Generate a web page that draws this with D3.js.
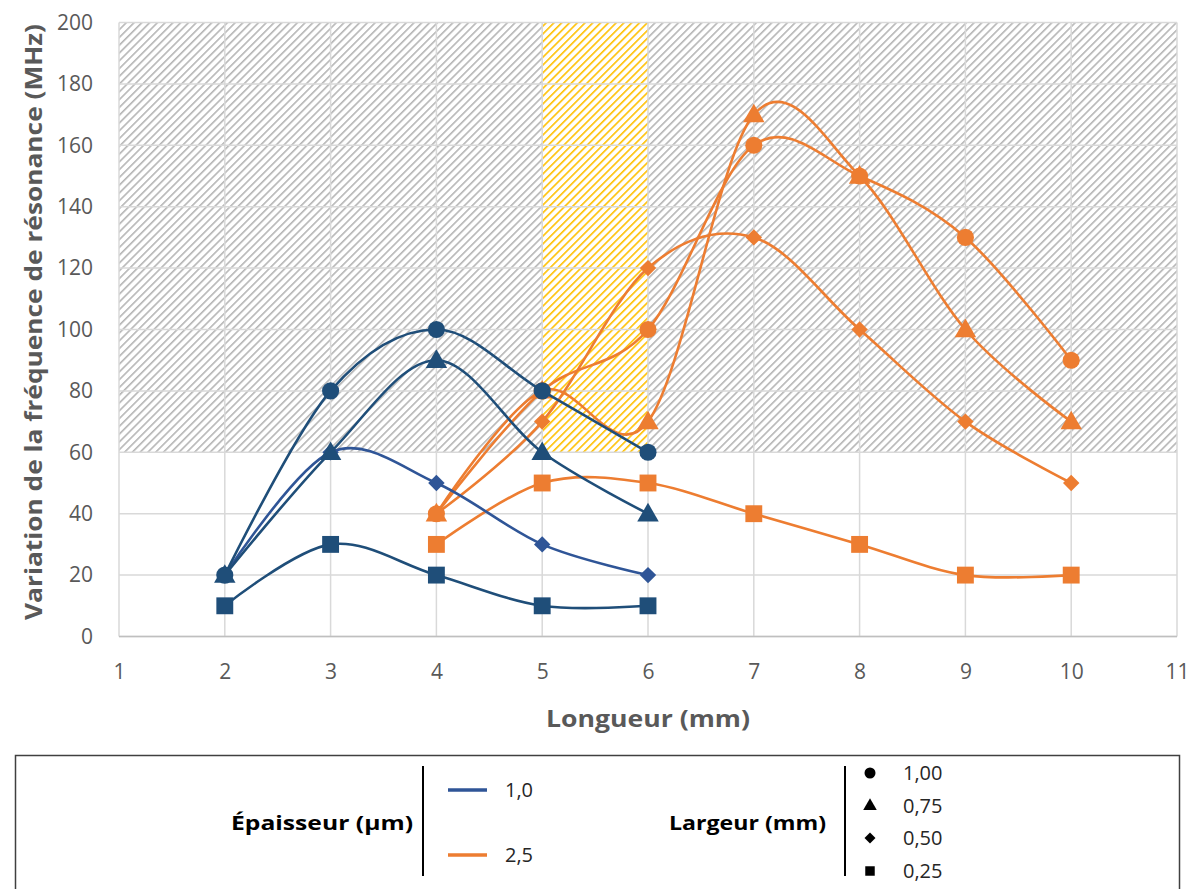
<!DOCTYPE html>
<html>
<head>
<meta charset="utf-8">
<script src="https://cdn.jsdelivr.net/npm/d3@7"></script>
<style>
  html, body { margin: 0; padding: 0; background: #fff; }
  svg { display: block; }
</style>
</head>
<body>
<svg id="chart" width="1198" height="889"></svg>
<script>
// ---- data ----
const xTicks = [1, 2, 3, 4, 5, 6, 7, 8, 9, 10, 11];
const yTicks = [0, 20, 40, 60, 80, 100, 120, 140, 160, 180, 200];

const xBlue = [2, 3, 4, 5, 6];
const blueCircle   = [20, 80, 100, 80, 60];
const blueTriangle = [20, 60, 90, 60, 40];
const blueDiamond  = [20, 60, 50, 30, 20];
const blueSquare   = [10, 30, 20, 10, 10];

const xOrange = [4, 5, 6, 7, 8, 9, 10];
const orangeCircle   = [40, 80, 100, 160, 150, 130, 90];
const orangeTriangle = [40, 80, 70, 170, 150, 100, 70];
const orangeDiamond  = [40, 70, 120, 130, 100, 70, 50];
const orangeSquare   = [30, 50, 50, 40, 30, 20, 20];

// shaded zones: [x0, x1, y0, y1]
const hatchZone = [1, 11, 60, 200];
const yellowZone = [5, 6, 60, 200];

const thicknessLabels = ["1,0", "2,5"];
const widthLabels = ["1,00", "0,75", "0,50", "0,25"];

(function () {
const svg = d3.select("#chart");
const pLeft = 119, pRight = 1177, pTop = 22.5, pBottom = 636.5;
const x = d3.scaleLinear().domain([1, 11]).range([pLeft, pRight]);
const y = d3.scaleLinear().domain([0, 200]).range([pBottom, pTop]);

const blueDark = "#1f4e79", blueMid = "#2f5597", orange = "#ed7d31";
const axisGrey = "#595959", gridGrey = "#d9d9d9";
const font = "'Open Sans', 'Noto Sans', sans-serif";

const defs = svg.append("defs");
function hatch(id, color, w) {
  const p = defs.append("pattern").attr("id", id)
    .attr("patternUnits", "userSpaceOnUse")
    .attr("width", 5.5).attr("height", 5.5)
    .attr("patternTransform", "rotate(45)");
  p.append("rect").attr("width", 5.5).attr("height", 5.5).attr("fill", "#fff");
  p.append("rect").attr("x", 0).attr("width", w).attr("height", 5.5).attr("fill", color);
}
hatch("hatchGrey", "#b5b5b5", 1.6);
hatch("hatchYellow", "#ffc000", 1.6);

svg.append("rect")
  .attr("x", x(hatchZone[0])).attr("y", y(hatchZone[3]))
  .attr("width", x(hatchZone[1]) - x(hatchZone[0]))
  .attr("height", y(hatchZone[2]) - y(hatchZone[3]))
  .attr("fill", "url(#hatchGrey)");
svg.append("rect")
  .attr("x", x(yellowZone[0])).attr("y", y(yellowZone[3]))
  .attr("width", x(yellowZone[1]) - x(yellowZone[0]))
  .attr("height", y(yellowZone[2]) - y(yellowZone[3]))
  .attr("fill", "url(#hatchYellow)");

// grid
const grid = svg.append("g");
grid.selectAll("line.h").data(yTicks).join("line")
  .attr("x1", pLeft).attr("x2", pRight)
  .attr("y1", d => y(d)).attr("y2", d => y(d))
  .attr("stroke", gridGrey).attr("stroke-width", 1.5);
grid.selectAll("line.v").data(xTicks).join("line")
  .attr("y1", pTop).attr("y2", pBottom)
  .attr("x1", d => x(d)).attr("x2", d => x(d))
  .attr("stroke", gridGrey).attr("stroke-width", 1.5);
svg.append("line").attr("x1", pLeft).attr("x2", pRight)
  .attr("y1", pBottom).attr("y2", pBottom)
  .attr("stroke", "#bfbfbf").attr("stroke-width", 1.5);

// axes
const yAxis = d3.axisLeft(y).tickValues(yTicks).tickSize(0).tickPadding(26);
const gy = svg.append("g").attr("transform", `translate(${pLeft},0)`).call(yAxis);
gy.select(".domain").remove();
gy.selectAll("text").attr("font-family", font).attr("font-size", 21)
  .attr("fill", axisGrey);

const xAxis = d3.axisBottom(x).tickValues(xTicks).tickSize(0).tickPadding(28);
const gx = svg.append("g").attr("transform", `translate(0,${pBottom})`).call(xAxis);
gx.select(".domain").remove();
gx.selectAll("text").attr("font-family", font).attr("font-size", 21)
  .attr("fill", axisGrey);

// axis titles
svg.append("text")
  .attr("transform", `translate(42,322) rotate(-90)`)
  .attr("text-anchor", "middle")
  .attr("font-family", font).attr("font-weight", "bold").attr("font-size", 24)
  .attr("fill", axisGrey)
  .attr("textLength", 596).attr("lengthAdjust", "spacingAndGlyphs")
  .text("Variation de la fréquence de résonance (MHz)");
svg.append("text")
  .attr("x", (pLeft + pRight) / 2).attr("y", 727)
  .attr("text-anchor", "middle")
  .attr("font-family", font).attr("font-weight", "bold").attr("font-size", 23)
  .attr("fill", axisGrey)
  .attr("textLength", 204).attr("lengthAdjust", "spacingAndGlyphs")
  .text("Longueur (mm)");

// symbols
const sq = d3.symbol().type(d3.symbolSquare);
const sym = {
  circle: { d: d3.symbol().type(d3.symbolCircle).size(230)(), rot: 0, dy: 0 },
  triangle: { d: d3.symbol().type(d3.symbolTriangle).size(200)(), rot: 0, dy: 1.5 },
  diamond: { d: sq.size(135)(), rot: 45, dy: 0 },
  square: { d: sq.size(285)(), rot: 0, dy: 0 }
};

const line = d3.line().curve(d3.curveCatmullRom.alpha(0))
  .x(d => x(d[0])).y(d => y(d[1]));

const series = [
  { xs: xOrange, ys: orangeSquare, color: orange, shape: "square" },
  { xs: xOrange, ys: orangeDiamond, color: orange, shape: "diamond" },
  { xs: xOrange, ys: orangeTriangle, color: orange, shape: "triangle" },
  { xs: xOrange, ys: orangeCircle, color: orange, shape: "circle" },
  { xs: xBlue, ys: blueSquare, color: blueDark, shape: "square" },
  { xs: xBlue, ys: blueDiamond, color: blueMid, shape: "diamond" },
  { xs: xBlue, ys: blueTriangle, color: blueDark, shape: "triangle" },
  { xs: xBlue, ys: blueCircle, color: blueDark, shape: "circle" }
];

const gs = svg.append("g");
series.forEach(s => {
  const pts = s.xs.map((xv, i) => [xv, s.ys[i]]);
  const g = gs.append("g");
  g.append("path").attr("d", line(pts)).attr("fill", "none")
    .attr("stroke", s.color).attr("stroke-width", 2.6);
  const m = sym[s.shape];
  g.selectAll("path.m").data(pts).join("path")
    .attr("class", "m")
    .attr("transform", d => `translate(${x(d[0])},${y(d[1]) + m.dy}) rotate(${m.rot})`)
    .attr("d", m.d)
    .attr("fill", s.color);
});

// legend
const lg = svg.append("g");
lg.append("rect").attr("x", 15.5).attr("y", 755.5).attr("width", 1164).attr("height", 150)
  .attr("fill", "#fff").attr("stroke", "#404040").attr("stroke-width", 1.5);

lg.append("text").attr("x", 413).attr("y", 830).attr("text-anchor", "end")
  .attr("font-family", font).attr("font-weight", "bold").attr("font-size", 19)
  .attr("fill", "#000").attr("textLength", 182).attr("lengthAdjust", "spacingAndGlyphs")
  .text("Épaisseur (µm)");
lg.append("line").attr("x1", 423).attr("x2", 423).attr("y1", 766).attr("y2", 876)
  .attr("stroke", "#000").attr("stroke-width", 2);
const thickColors = [blueMid, orange];
const thickY = [790, 855];
thicknessLabels.forEach((t, i) => {
  lg.append("line").attr("x1", 448).attr("x2", 487)
    .attr("y1", thickY[i]).attr("y2", thickY[i])
    .attr("stroke", thickColors[i]).attr("stroke-width", 3.5);
  lg.append("text").attr("x", 505).attr("y", thickY[i] + 7)
    .attr("font-family", font).attr("font-size", 20).attr("fill", "#262626")
    .text(t);
});

lg.append("text").attr("x", 826).attr("y", 830).attr("text-anchor", "end")
  .attr("font-family", font).attr("font-weight", "bold").attr("font-size", 19)
  .attr("fill", "#000").attr("textLength", 157).attr("lengthAdjust", "spacingAndGlyphs")
  .text("Largeur (mm)");
lg.append("line").attr("x1", 845).attr("x2", 845).attr("y1", 766).attr("y2", 876)
  .attr("stroke", "#000").attr("stroke-width", 2);
const shapes = ["circle", "triangle", "diamond", "square"];
const legSym = {
  circle: { d: d3.symbol().type(d3.symbolCircle).size(95)(), rot: 0 },
  triangle: { d: d3.symbol().type(d3.symbolTriangle).size(80)(), rot: 0 },
  diamond: { d: d3.symbol().type(d3.symbolSquare).size(60)(), rot: 45 },
  square: { d: d3.symbol().type(d3.symbolSquare).size(90)(), rot: 0 }
};
const widthY = [773, 806, 838, 871];
widthLabels.forEach((t, i) => {
  const m = legSym[shapes[i]];
  lg.append("path").attr("transform", `translate(870,${widthY[i]}) rotate(${m.rot})`)
    .attr("d", m.d).attr("fill", "#000");
  lg.append("text").attr("x", 903).attr("y", widthY[i] + 7)
    .attr("font-family", font).attr("font-size", 20).attr("fill", "#262626")
    .text(t);
});
})();
</script>
</body>
</html>
